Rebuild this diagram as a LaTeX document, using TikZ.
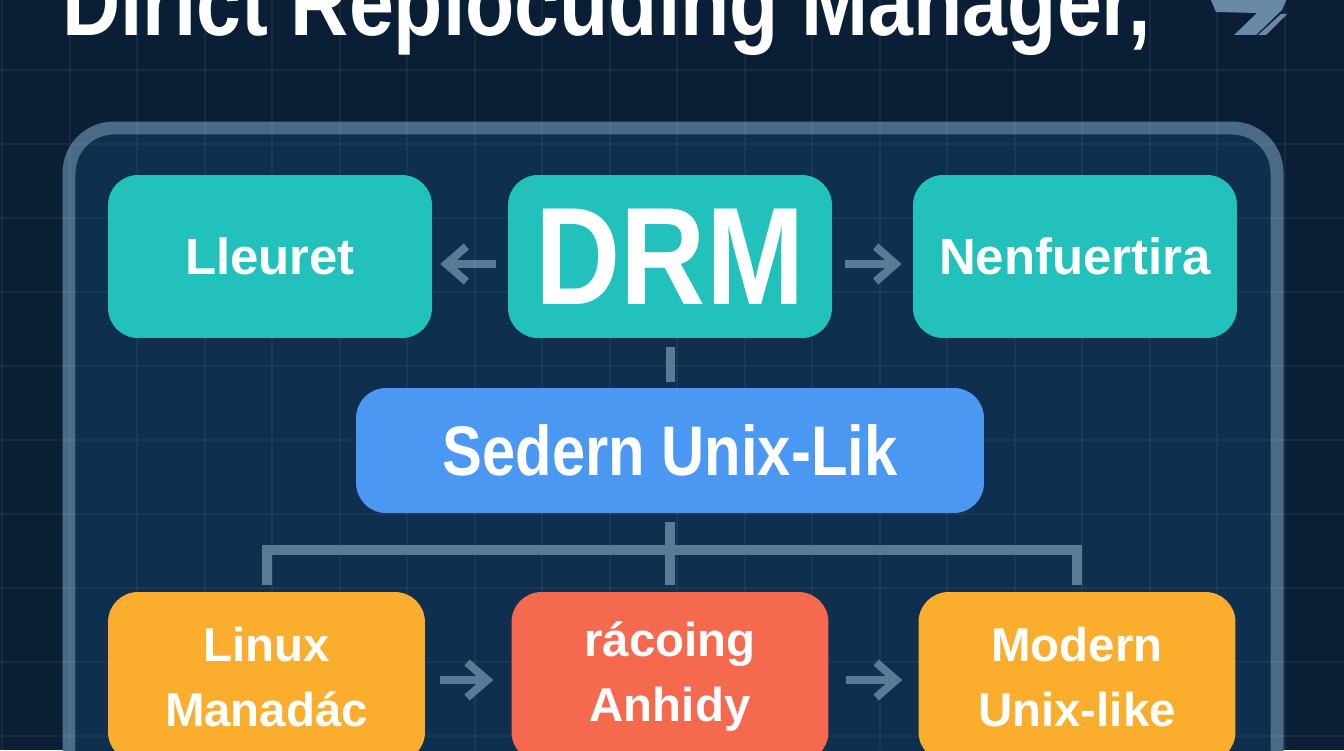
\documentclass[tikz,border=0pt]{standalone}
\usepackage{fontspec}
\setmainfont{Liberation Sans}
\newfontfamily\condfont[FakeStretch=0.85]{Liberation Sans}
\usetikzlibrary{arrows.meta}

\definecolor{bgnavy}{HTML}{0A1F36}
\definecolor{panel}{HTML}{0E2F4D}
\definecolor{frame}{HTML}{4B6A86}
\definecolor{connblue}{HTML}{5B7A96}
\definecolor{teal}{HTML}{23C1BB}
\definecolor{skyblue}{HTML}{4A98F2}
\definecolor{amber}{HTML}{FBAD2D}
\definecolor{coral}{HTML}{F5694F}
\definecolor{iconblue}{HTML}{6A89A6}

\tikzset{
    box/.style={rounded corners=0.6cm, minimum width=6.48cm, minimum height=3.26cm,
        text=white, align=center, inner sep=0pt,
        font=\bfseries\fontsize{29}{34}\selectfont},
    lowbox/.style={box, minimum width=6.34cm, minimum height=3.4cm,
        font=\bfseries\fontsize{27}{37}\selectfont},
    conn/.style={draw=connblue, line width=0.16cm,
        -{Straight Barb[length=0.4cm, width=0.7cm]}},
    tree/.style={draw=connblue, line width=0.2cm},
    gridline/.style={draw=white, opacity=0.05, line width=0.04cm}
}

\begin{document}
\begin{tikzpicture}[x=0.02cm, y=-0.02cm]
    \useasboundingbox (0,0) rectangle (1344,750);
    \clip (0,0) rectangle (1344,750);
    \fill[bgnavy] (0,0) rectangle (1344,750);

    % panel
    \draw[line width=0.26cm, draw=frame, fill=panel, rounded corners=0.9cm] (69,128) rectangle (1277,830);

    % grid
    \foreach \gx in {2,69.5,...,1344} {
        \draw[gridline] (\gx,0) -- (\gx,750);
    }
    \foreach \gy in {-4,70,...,750} {
        \draw[gridline] (0,\gy) -- (1344,\gy);
    }

    % title and icon
    \node[anchor=base west, inner sep=0pt, text=white,
        font=\condfont\bfseries\fontsize{54}{60}\selectfont] (title) at (62,36) {Dirict Replocuding Manager,};
    \fill[iconblue] (1210,-2) -- (1287,-2) -- (1282,10) -- (1256,35) -- (1234,35) -- (1257,13) -- (1216,12) -- cycle;
    \fill[iconblue] (1287,14) -- (1266,35) -- (1258,35) -- (1281,14) -- cycle;

    % top row
    \node[box, fill=teal] (lleuret) at (270,256.5) {Lleuret};
    \node[box, fill=teal, font=\condfont\bfseries\fontsize{79}{80}\selectfont] (drm) at (670,256.5) {DRM};
    \node[box, fill=teal] (nenf) at (1075,256.5) {Nenfuertira};

    % middle
    \node[box, fill=skyblue, minimum width=12.56cm, minimum height=2.5cm,
        font=\condfont\bfseries\fontsize{40}{44}\selectfont] (sedern) at (670,450.5) {Sedern Unix-Lik};

    % bottom row
    \node[lowbox, fill=amber] (linux) at (266.5,677) {Linux\\Manadác};
    \node[lowbox, fill=coral] (racoing) at (670,677) {rácoing\\Anhidy};
    \node[lowbox, fill=amber] (modern) at (1077,677) {Modern\\Unix-like};

    % connectors
    \draw[conn, shorten <=0.24cm, shorten >=0.16cm] ([yshift=-0.15cm]drm.west) -- ([yshift=-0.15cm]lleuret.east);
    \draw[conn, shorten <=0.26cm, shorten >=0.22cm] ([yshift=-0.15cm]drm.east) -- ([yshift=-0.15cm]nenf.west);
    \draw[tree, line width=0.18cm, shorten <=0.18cm, shorten >=0.12cm] (drm.south) -- (sedern.north);

    \coordinate (bus) at (670,550);
    \draw[tree, shorten <=0.18cm] (sedern.south) -- (bus);
    \draw[tree, shorten <=0.14cm, shorten >=0.14cm] (linux.north) |- (bus) -| (modern.north);
    \draw[tree, shorten >=0.14cm] (bus) -- (racoing.north);

    \draw[conn, shorten <=0.3cm, shorten >=0.36cm] ([yshift=-0.06cm]linux.east) -- ([yshift=-0.06cm]racoing.west);
    \draw[conn, shorten <=0.34cm, shorten >=0.32cm] ([yshift=-0.06cm]racoing.east) -- ([yshift=-0.06cm]modern.west);
\end{tikzpicture}
\end{document}
